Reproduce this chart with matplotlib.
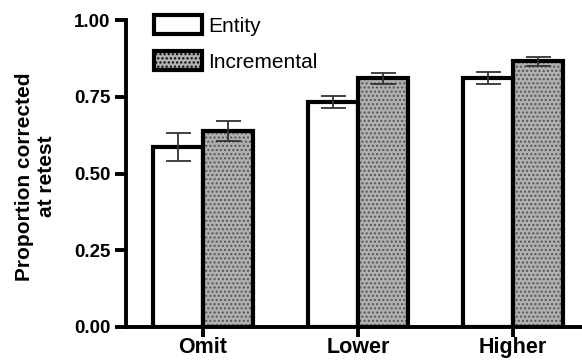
import matplotlib
matplotlib.use("Agg")
import matplotlib.pyplot as plt
import numpy as np
from matplotlib.patches import Patch

plt.rcParams['font.family'] = ['Liberation Sans', 'DejaVu Sans']

# data
groups = ['Omit', 'Lower', 'Higher']
entity = [0.587, 0.733, 0.810]
entity_err = [0.046, 0.021, 0.020]
incremental = [0.638, 0.810, 0.865]
incremental_err = [0.033, 0.018, 0.015]

fig = plt.figure(figsize=(5.82, 3.6), dpi=100)
ax = fig.add_axes([0.2165, 0.0917, 0.7835, 0.8527])

x = np.arange(len(groups))
w = 0.32

# entity bars: white with thick black edge
ax.bar(x - w / 2, entity, w, color='white', edgecolor='black', linewidth=3, zorder=2)
# incremental bars: dotted grey fill, then black outline on top
ax.bar(x + w / 2, incremental, w, color='#b0b0b0', edgecolor='#555555',
       hatch='....', linewidth=0, zorder=2)
ax.bar(x + w / 2, incremental, w, fill=False, edgecolor='black', linewidth=3, zorder=3)

ax.errorbar(x - w / 2, entity, yerr=entity_err, fmt='none', ecolor='#333333',
            elinewidth=1.3, capsize=9, capthick=1.3, zorder=4)
ax.errorbar(x + w / 2, incremental, yerr=incremental_err, fmt='none', ecolor='#333333',
            elinewidth=1.3, capsize=9, capthick=1.3, zorder=4)

ax.set_xlim(-0.497, 2.445)
ax.set_ylim(0, 1.0)
ax.set_yticks([0, 0.25, 0.5, 0.75, 1.0])
ax.set_yticklabels(['0.00', '0.25', '0.50', '0.75', '1.00'], fontsize=13.5, fontweight='bold')
ax.set_xticks(x)
ax.set_xticklabels(groups, fontsize=15.5, fontweight='bold')
ax.set_ylabel('Proportion corrected\nat retest', fontsize=15, fontweight='bold')
ax.yaxis.set_label_coords(-0.153, 0.49)

for s in ['top', 'right']:
    ax.spines[s].set_visible(False)
for s in ['left', 'bottom']:
    ax.spines[s].set_linewidth(2.8)
ax.tick_params(axis='y', width=2.8, length=8, direction='out', pad=3)
ax.tick_params(axis='x', width=2.8, length=7, direction='out', pad=0.5)

handles = [Patch(facecolor='white', edgecolor='black', linewidth=3),
           Patch(facecolor='#b0b0b0', edgecolor='black', hatch='....', linewidth=3)]
ax.legend(handles, ['Entity', 'Incremental'], loc='upper left', bbox_to_anchor=(0.062, 1.015),
          frameon=False, fontsize=15, handlelength=2.3, handleheight=1.0,
          labelspacing=0.75, handletextpad=0.3, borderpad=0, borderaxespad=0)

fig.savefig('out.png', dpi=100)
